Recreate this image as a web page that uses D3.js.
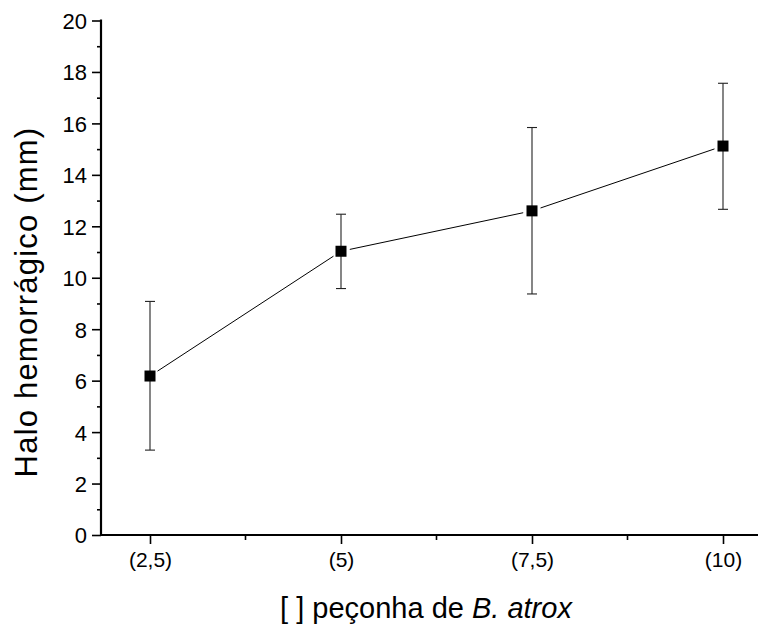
<!DOCTYPE html>
<html><head><meta charset="utf-8">
<script src="https://cdn.jsdelivr.net/npm/d3@7"></script>
<style>body{margin:0;background:#fff}svg{display:block}text{font-family:"Liberation Sans",Arial,sans-serif;fill:#000}</style>
</head><body><svg id="c" width="762" height="630"></svg>
<script>
const categories = ["(2,5)", "(5)", "(7,5)", "(10)"];
const means = [6.18, 11.03, 12.6, 15.12];
const upper = [9.08, 12.47, 15.84, 17.56];
const lower = [3.3, 9.58, 9.37, 12.66];
const yTicks = [0, 2, 4, 6, 8, 10, 12, 14, 16, 18, 20];
const yMinor = [1, 3, 5, 7, 9, 11, 13, 15, 17, 19];

const svg = d3.select("#c");
const L = 101, R = 758, T = 20.5, B = 535;
const x = d3.scalePoint().domain(categories).range([150, 723]);
const y = d3.scaleLinear().domain([0, 20]).range([B, T]);

// y axis
const ya = svg.append("g").attr("transform", `translate(${L},0)`)
  .call(d3.axisLeft(y).tickValues(yTicks).tickSize(9).tickPadding(5).tickSizeOuter(0));
ya.select(".domain").remove();
ya.selectAll("line").attr("stroke", "#000").attr("stroke-width", 1.6);
ya.selectAll("text").attr("font-size", 22).attr("dy", "0.36em").attr("font-family", "Liberation Sans, Arial, sans-serif");
const yb = svg.append("g").attr("transform", `translate(${L},0)`)
  .call(d3.axisLeft(y).tickValues(yMinor).tickSize(4).tickFormat(""));
yb.select(".domain").remove();
yb.selectAll("line").attr("stroke", "#000").attr("stroke-width", 1.6);
svg.append("line").attr("x1", L).attr("x2", L).attr("y1", T - 1).attr("y2", B + 1).attr("stroke", "#000").attr("stroke-width", 2.2);

// x axis
const xa = svg.append("g").attr("transform", `translate(0,${B})`)
  .call(d3.axisBottom(x).tickSize(9).tickPadding(8).tickSizeOuter(0));
xa.select(".domain").remove();
xa.selectAll("line").attr("stroke", "#000").attr("stroke-width", 1.6);
xa.selectAll("text").attr("font-size", 21).attr("font-family", "Liberation Sans, Arial, sans-serif");
const mids = categories.slice(1).map((c, i) => (x(categories[i]) + x(c)) / 2);
svg.append("g").selectAll("line").data(mids).join("line")
  .attr("x1", d => d).attr("x2", d => d).attr("y1", B).attr("y2", B + 5)
  .attr("stroke", "#000").attr("stroke-width", 1.6);
svg.append("line").attr("x1", L - 1).attr("x2", R).attr("y1", B).attr("y2", B).attr("stroke", "#000").attr("stroke-width", 2.2);

// connecting line with gaps
const pts = categories.map((c, i) => [x(c), y(means[i])]);
const gap = 9;
for (let i = 0; i < pts.length - 1; i++) {
  const [x1, y1] = pts[i], [x2, y2] = pts[i + 1];
  const len = Math.hypot(x2 - x1, y2 - y1), ux = (x2 - x1) / len, uy = (y2 - y1) / len;
  svg.append("line").attr("x1", x1 + ux * gap).attr("y1", y1 + uy * gap)
    .attr("x2", x2 - ux * gap).attr("y2", y2 - uy * gap).attr("stroke", "#000").attr("stroke-width", 1);
}

// error bars
const eb = svg.append("g").attr("stroke", "#222").attr("stroke-width", 1.1);
categories.forEach((c, i) => {
  const cx = x(c);
  eb.append("line").attr("x1", cx).attr("x2", cx).attr("y1", y(upper[i])).attr("y2", y(lower[i]));
  eb.append("line").attr("x1", cx - 5).attr("x2", cx + 5).attr("y1", y(upper[i])).attr("y2", y(upper[i]));
  eb.append("line").attr("x1", cx - 5).attr("x2", cx + 5).attr("y1", y(lower[i])).attr("y2", y(lower[i]));
});

// markers
svg.append("g").selectAll("rect").data(categories).join("rect")
  .attr("x", d => x(d) - 5.5).attr("y", (d, i) => y(means[i]) - 5.5)
  .attr("width", 11).attr("height", 11).attr("fill", "#000");

// axis titles
svg.append("text").attr("transform", "translate(37,302) rotate(-90)")
  .attr("text-anchor", "middle").attr("font-size", 31).attr("letter-spacing", 1.2).text("Halo hemorrágico (mm)");
const xt = svg.append("text").attr("x", 426).attr("y", 618).attr("text-anchor", "middle").attr("font-size", 29);
xt.append("tspan").text("[ ] peçonha de ");
xt.append("tspan").attr("font-style", "italic").text("B. atrox");
</script></body></html>
